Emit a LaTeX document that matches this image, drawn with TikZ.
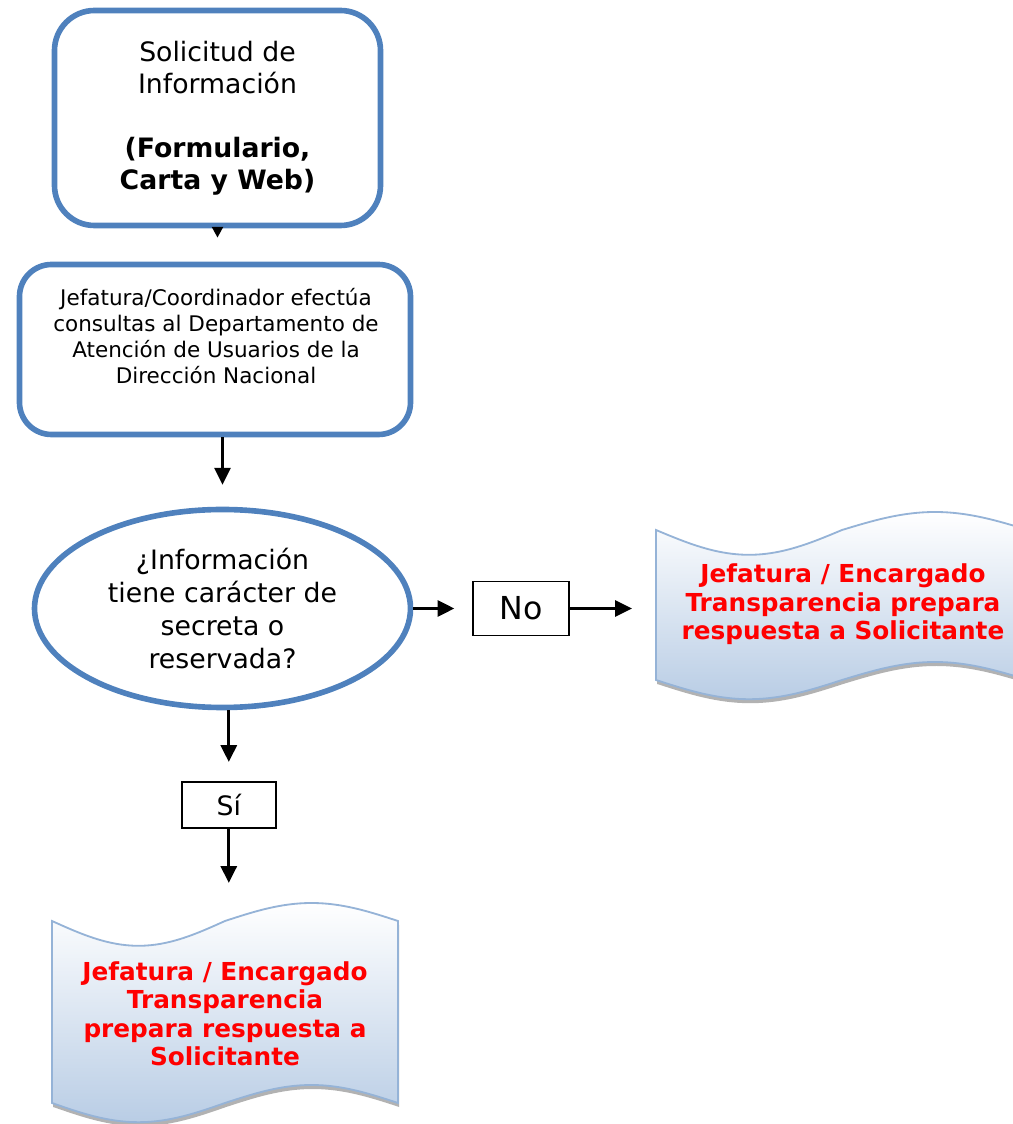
\documentclass[tikz,border=0pt]{standalone}
\usepackage{fontspec}
\setmainfont{DejaVu Sans}
\usetikzlibrary{shapes.geometric,arrows.meta,shadows}

\definecolor{azul}{RGB}{79,129,189}
\definecolor{borde}{RGB}{149,179,215}
\definecolor{celeste}{RGB}{185,205,229}

% wavy sheet: left x, right x, top mid y, bottom mid y
\newcommand{\hojaonda}[4]{%
  \draw[hoja] (#1,#3) sin ({#1+0.25*(#2-#1)},{#3-0.62}) cos ({#1+0.5*(#2-#1)},#3)
    sin ({#1+0.75*(#2-#1)},{#3+0.45}) cos (#2,#3)
    -- (#2,#4) sin ({#1+0.75*(#2-#1)},{#4+0.45}) cos ({#1+0.5*(#2-#1)},#4)
    sin ({#1+0.25*(#2-#1)},{#4-0.48}) cos (#1,#4) -- cycle;}

\begin{document}
\begin{tikzpicture}[
    caja/.style={draw=azul, line width=4pt, align=center, inner sep=0pt},
    etiqueta/.style={draw, line width=1.2pt, minimum width=2.35cm, minimum height=1.15cm, inner sep=0pt},
    flecha/.style={line width=2pt, -{Triangle[length=0.42cm,width=0.4cm]}},
    rojo/.style={text=red, font=\bfseries\fontsize{17.6}{20.3}\selectfont, align=center, inner sep=0pt},
    hoja/.style={draw=borde, line width=1.3pt, top color=white, bottom color=celeste,
        drop shadow={shadow xshift=0.03cm, shadow yshift=-0.1cm, opacity=0.5, fill=black!60}}
]
    \useasboundingbox (0,0) rectangle (25.325,28.1);
    \clip (0,0) rectangle (25.325,28.1);

    % boxes
    \node[caja, rounded corners=1cm, minimum width=8.15cm, minimum height=5.375cm,
        font=\fontsize{19}{22.8}\selectfont] (sol) at (5.4375,25.15)
        {Solicitud de\\Información\\[0.8cm]\textbf{(Formulario,}\\\textbf{Carta y Web)}};

    \node[caja, rounded corners=0.8cm, minimum width=9.775cm, minimum height=4.25cm] (consulta) at (5.375,19.3625) {};
    \node[align=center, font=\fontsize{15.3}{18.5}\selectfont] (consulta_txt) at (5.4,19.71)
        {Jefatura/Coordinador efectúa\\consultas al Departamento de\\Atención de Usuarios de la\\Dirección Nacional};

    \node[caja, ellipse, minimum width=9.4cm, minimum height=4.95cm,
        font=\fontsize{19}{23.3}\selectfont] (dec) at (5.5625,12.8875)
        {¿Información\\tiene carácter de\\secreta o\\reservada?};

    \node[etiqueta, minimum width=2.4cm, minimum height=1.35cm, font=\fontsize{22.5}{27}\selectfont] (no) at (13.03,12.8875) {No};
    \node[etiqueta, font=\fontsize{19}{23}\selectfont] (si) at (5.72,7.975) {Sí};

    % answer sheets
    \hojaonda{1.3}{9.95}{5.075}{0.525}
    \hojaonda{16.4}{25.7}{14.85}{11.1}

    \node[rojo, minimum width=8.65cm, minimum height=5.48cm] (resp_si) at (5.625,2.76)
        {Jefatura / Encargado\\Transparencia\\prepara respuesta a\\Solicitante};
    \node[rojo, minimum width=9.3cm, minimum height=4.68cm] (resp_no) at (21.075,12.99)
        {Jefatura / Encargado\\Transparencia prepara\\respuesta a Solicitante};

    % arrows
    \draw[line width=2pt, -{Triangle[length=0.27cm,width=0.27cm]}, shorten >=0.6cm]
        (sol.south) -- (sol.south |- consulta.north);
    \draw[flecha, shorten >=0.55cm] (consulta.south -| dec.north) -- (dec.north);
    \draw[flecha, shorten >=0.45cm] (dec.east) -- (no.west);
    \draw[flecha, shorten >=0.62cm] (no.east) -- (no.east -| resp_no.west);
    \draw[flecha, shorten >=0.48cm] (dec.south -| si.north) -- (si.north);
    \draw[flecha, shorten >=0.52cm] (si.south) -- (si.south |- resp_si.north);
\end{tikzpicture}
\end{document}
